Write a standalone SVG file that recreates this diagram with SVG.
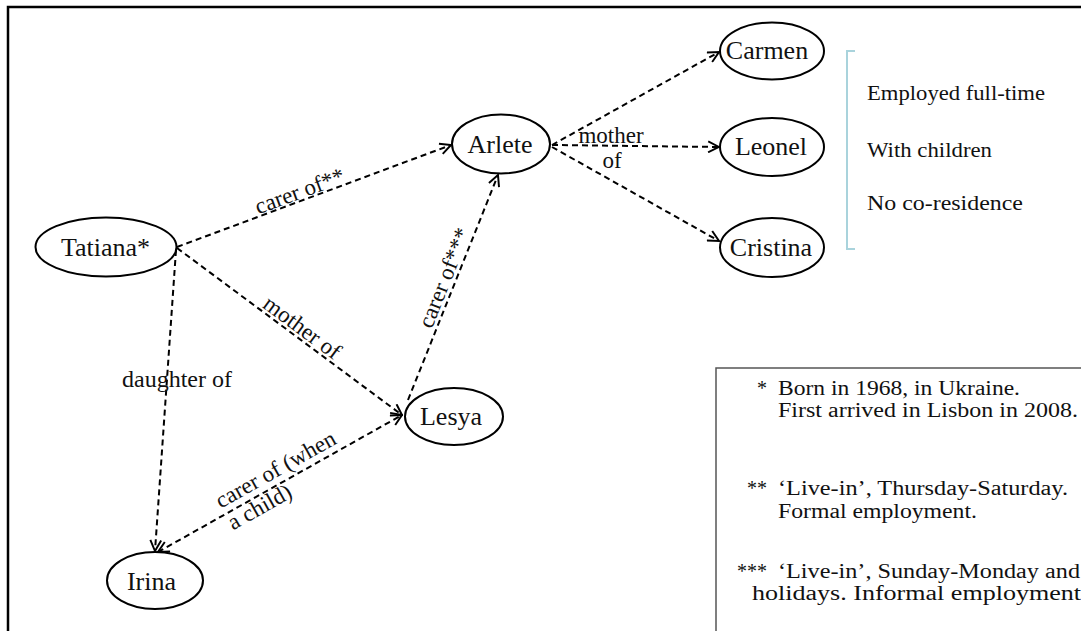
<svg xmlns="http://www.w3.org/2000/svg" width="1081" height="631" viewBox="0 0 1081 631">
<defs>
<marker id="arr" viewBox="0 0 12 12" refX="11" refY="6" markerWidth="13" markerHeight="13" markerUnits="userSpaceOnUse" orient="auto-start-reverse">
<path d="M1,1 L11,6 L1,11" fill="none" stroke="#000" stroke-width="1.8"/>
</marker>
<style>
.node ellipse{fill:#fff;stroke:#000;stroke-width:2}
.node text{font-family:"Liberation Serif","Times New Roman",serif;font-size:26px;fill:#111;text-anchor:middle}
.edge{fill:none;stroke:#000;stroke-width:2;stroke-dasharray:6 4;marker-end:url(#arr)}
.lbl{font-family:"Liberation Serif","Times New Roman",serif;font-size:23px;fill:#111}
.side{font-family:"Liberation Serif","Times New Roman",serif;font-size:20px;fill:#111}
.leg{font-family:"Liberation Serif","Times New Roman",serif;font-size:20px;fill:#111}
</style>
</defs>
<rect width="1081" height="631" fill="#fff"/>
<path d="M8,631 V7 H1081" fill="none" stroke="#000" stroke-width="2.5"/>

<g id="connectors">
<line class="edge" x1="177" y1="247" x2="451" y2="145"/>
<line class="edge" x1="177" y1="248" x2="402" y2="415"/>
<line class="edge" x1="176" y1="250" x2="155" y2="551"/>
<line class="edge" x1="408" y1="400" x2="498" y2="175"/>
<line class="edge" x1="158" y1="552" x2="402" y2="415" style="marker-start:url(#arr)"/>
<line class="edge" x1="552" y1="145" x2="719" y2="52"/>
<line class="edge" x1="552" y1="145" x2="719" y2="147"/>
<line class="edge" x1="552" y1="147" x2="719" y2="241"/>
<text class="lbl" transform="translate(303,200) rotate(-20.4)" x="0" y="-2" text-anchor="middle">carer of**</text>
<text class="lbl" transform="translate(296,336) rotate(36.5)" x="0" y="-3" text-anchor="middle">mother of</text>
<text class="lbl" x="122" y="387" textLength="110" lengthAdjust="spacingAndGlyphs">daughter of</text>
<text class="lbl" transform="translate(455,282) rotate(-68.2)" x="0" y="-4" text-anchor="middle">carer of***</text>
<text class="lbl" transform="translate(158,552) rotate(-29.3)"><tspan x="76" y="-7">carer of (when</tspan><tspan x="76" y="18">a child)</tspan></text>
<text class="lbl" x="611" y="143" text-anchor="middle">mother</text>
<text class="lbl" x="612" y="168" text-anchor="middle">of</text>
</g>

<g id="tatiana" class="node"><ellipse cx="106" cy="247" rx="70.5" ry="29.5"/><text x="105.5" y="256">Tatiana*</text></g>
<g id="arlete" class="node"><ellipse cx="501" cy="144" rx="49" ry="29.5"/><text x="500" y="153">Arlete</text></g>
<g id="carmen" class="node"><ellipse cx="772" cy="51" rx="52" ry="28.5"/><text x="767" y="59">Carmen</text></g>
<g id="leonel" class="node"><ellipse cx="772" cy="147" rx="52" ry="29"/><text x="771" y="155">Leonel</text></g>
<g id="cristina" class="node"><ellipse cx="772" cy="247.5" rx="52" ry="29.5"/><text x="771" y="256">Cristina</text></g>
<g id="lesya" class="node"><ellipse cx="454" cy="416.5" rx="49" ry="28.5"/><text x="451" y="425">Lesya</text></g>
<g id="irina" class="node"><ellipse cx="155" cy="580.5" rx="48" ry="28.5"/><text x="151.5" y="590">Irina</text></g>

<g id="bracket">
<path d="M855,51 H847 V249 H855" fill="none" stroke="#a9d3dc" stroke-width="2"/>
<text class="side" x="867" y="100" textLength="178" lengthAdjust="spacingAndGlyphs">Employed full-time</text>
<text class="side" x="867" y="157" textLength="125" lengthAdjust="spacingAndGlyphs">With children</text>
<text class="side" x="867" y="210" textLength="156" lengthAdjust="spacingAndGlyphs">No co-residence</text>
</g>

<g id="legend">
<path d="M716,631 V368 H1081" fill="none" stroke="#555" stroke-width="1.5"/>
<text class="leg" x="767" y="395" text-anchor="end">*</text>
<text class="leg" x="778" y="395" textLength="242" lengthAdjust="spacingAndGlyphs">Born in 1968, in Ukraine.</text>
<text class="leg" x="778" y="417" textLength="300" lengthAdjust="spacingAndGlyphs">First arrived in Lisbon in 2008.</text>
<text class="leg" x="767" y="495" text-anchor="end">**</text>
<text class="leg" x="778" y="495" textLength="290" lengthAdjust="spacingAndGlyphs">‘Live-in’, Thursday-Saturday.</text>
<text class="leg" x="778" y="518" textLength="199" lengthAdjust="spacingAndGlyphs">Formal employment.</text>
<text class="leg" x="767" y="578" text-anchor="end">***</text>
<text class="leg" x="778" y="578" textLength="302" lengthAdjust="spacingAndGlyphs">‘Live-in’, Sunday-Monday and</text>
<text class="leg" x="752" y="600" textLength="329" lengthAdjust="spacingAndGlyphs">holidays. Informal employment</text>
</g>
</svg>
